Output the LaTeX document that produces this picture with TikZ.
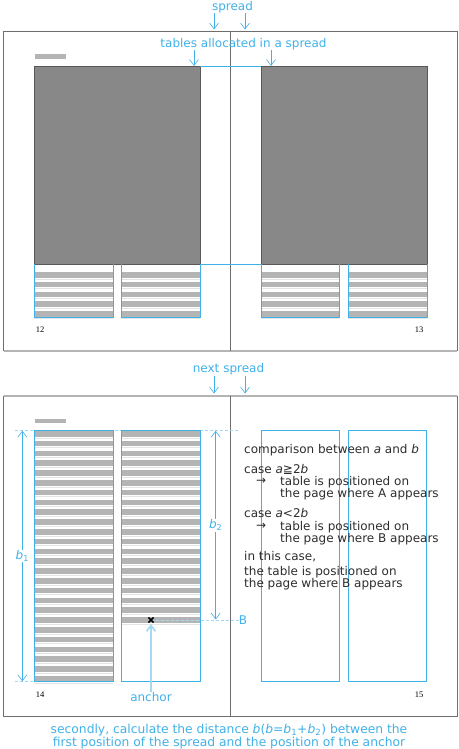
\documentclass[tikz,border=0pt]{standalone}
\usepackage{fontspec}
\setmainfont{DejaVu Sans}
\newfontfamily\pagenumfont{Liberation Serif}
\usetikzlibrary{arrows.meta}

\definecolor{refblue}{RGB}{64,176,232}
\definecolor{paleblue}{RGB}{165,216,242}
\definecolor{stripegray}{RGB}{180,180,180}
\definecolor{rowgray}{RGB}{228,228,228}
\definecolor{blockgray}{RGB}{136,136,136}
\definecolor{framegray}{RGB}{110,110,110}
\definecolor{textgray}{RGB}{45,45,45}

% variavel inclinada (a, b)
\newcommand\vr[1]{{\itshape #1}}

% linhas cinzas de uma coluna de tabela: x0, x1, y0, ultima linha
\newcommand\tablerows[4]{%
  \foreach \i in {0,...,#4} {%
    \fill[stripegray] (#1,{#3+9.8*\i}) rectangle (#2,{#3+9.8*\i+5.5});
    \draw[rowgray, line width=0.7pt] (#1,{#3+9.8*\i+6.9}) -- (#2,{#3+9.8*\i+6.9});
  }%
}

\begin{document}
\begin{tikzpicture}[
    x=1pt, y=-1pt,
    % estilos
    label/.style={text=refblue, font=\fontsize{12}{14}\selectfont, inner sep=0pt},
    body/.style={text=textgray, font=\fontsize{12}{14}\selectfont, inner sep=0pt, anchor=west},
    pagenum/.style={font=\pagenumfont\fontsize{8.5}{9}\selectfont, inner sep=0pt},
    pointer/.style={refblue, line width=0.6pt, -{Straight Barb[length=6pt,width=9pt]}},
    dimline/.style={refblue, line width=0.6pt, {Straight Barb[length=6pt,width=9pt]}-{Straight Barb[length=6pt,width=9pt]}},
    guide/.style={paleblue, line width=0.9pt, dash pattern=on 3pt off 2pt},
    column/.style={draw=refblue, line width=0.6pt},
    frame/.style={framegray, line width=0.7pt},
    frameedge/.style={stripegray, line width=1.6pt}
]
\useasboundingbox (0,0) rectangle (458,749);

% ==========================================
% 1. PRIMEIRA LAUDA (paginas 12 e 13)
% ==========================================
\draw[frame] (3.5,351) -- (3.5,31.5) -- (457,31.5) -- (457,351);
\draw[frameedge] (3.5,351) -- (457,351);
\draw[frame] (230.5,31.5) -- (230.5,351);

\fill[stripegray] (35,54) rectangle (66,58.7);

% blocos cinza
\draw[fill=blockgray, draw=framegray!80!black, line width=0.6pt] (34,66.3) rectangle (200,264.3);
\draw[fill=blockgray, draw=framegray!80!black, line width=0.6pt] (261,66.3) rectangle (427,264.3);
\draw[refblue, line width=0.6pt] (200,66.3) -- (261,66.3);
\draw[refblue, line width=0.6pt] (200,264.3) -- (261,264.3);

% tabelas abaixo dos blocos
\tablerows{34}{113.3}{272}{4}
\tablerows{121.3}{200}{272}{4}
\tablerows{261}{339.3}{272}{4}
\tablerows{348.3}{427}{272}{4}
\foreach \xa/\xb in {34/113.3, 121.3/200, 261/339.3, 348.3/427}
  \draw[column] (\xa,264.3) -- (\xa,317.3) -- (\xb,317.3) -- (\xb,264.3);

\node[pagenum] (p12) at (40,330) {12};
\node[pagenum] (p13) at (419,330) {13};

% rotulos
\node[label] (spread) at (232.5,7) {spread};
\coordinate (sa) at (214,13.5);  \coordinate (sa') at (214,29.5);
\coordinate (sb) at (245,13.5);  \coordinate (sb') at (245,29.5);
\draw[pointer] (sa) -- (sa');
\draw[pointer] (sb) -- (sb');

\node[label] (alloc) at (243.5,44) {tables allocated in a spread};
\coordinate (ta) at (194,50.5);  \coordinate (ta') at (194,66);
\coordinate (tb) at (271,50.5);  \coordinate (tb') at (271,66);
\draw[pointer] (ta) -- (ta');
\draw[pointer] (tb) -- (tb');

% ==========================================
% 2. PROXIMA LAUDA (paginas 14 e 15)
% ==========================================
\draw[frame] (3.5,395.7) -- (3.5,716) -- (457,716) -- (457,395.7);
\draw[frameedge] (3.5,395.7) -- (457,395.7);
\draw[frame] (230.5,395.7) -- (230.5,716);

\node[label] (next) at (228.5,369) {next spread};
\coordinate (na) at (214,376);  \coordinate (na') at (214,393.5);
\coordinate (nb) at (245,376);  \coordinate (nb') at (245,393.5);
\draw[pointer] (na) -- (na');
\draw[pointer] (nb) -- (nb');

\fill[stripegray] (35,418.7) rectangle (66,423.3);

% guias tracejadas
\draw[guide] (15,430.7) -- (238,430.7);
\draw[guide] (15,681.3) -- (34,681.3);

% colunas da pagina 14
\tablerows{34}{113.3}{431}{25}
\tablerows{121.3}{200}{431}{19}
\draw[column] (34,430.7) rectangle (113.3,681.3);
\draw[column] (121.3,430.7) rectangle (200,681.3);

% colunas vazias da pagina 15
\draw[column] (261.7,430.7) rectangle (339.3,681.3);
\draw[column] (348.3,430.7) rectangle (426.7,681.3);

\node[pagenum] (p14) at (40,695) {14};
\node[pagenum] (p15) at (419,695) {15};

% cotas b1 e b2
\coordinate (b1top) at (22.3,430.7);
\coordinate (b1bot) at (22.3,681.3);
\draw[dimline] (b1top) -- (b1bot)
  node[midway, fill=white, text=refblue, font=\fontsize{12}{14}\selectfont, inner sep=1pt] {\vr{b}\textsubscript{1}};
\coordinate (b2top) at (215.7,430.7);
\coordinate (b2bot) at (215.7,619.5);
\draw[dimline] (b2top) -- (b2bot)
  node[midway, fill=white, text=refblue, font=\fontsize{12}{14}\selectfont, inner sep=1pt] {\vr{b}\textsubscript{2}};

% ancora
\coordinate (mark) at (151,620);
\node[label] (B) at (243,620) {B};
\draw[guide] (mark) -- (B.west);
\draw[black, line width=1.6pt] ([xshift=-2.6pt,yshift=-2.6pt]mark) -- ([xshift=2.6pt,yshift=2.6pt]mark)
  ([xshift=-2.6pt,yshift=2.6pt]mark) -- ([xshift=2.6pt,yshift=-2.6pt]mark);
\node[label] (anchor) at (151,697) {anchor};
\coordinate (mark') at (151,624);
\draw[paleblue, line width=1.6pt, -{Straight Barb[length=6pt,width=9pt]}] (anchor.north) -- (mark');

% texto explicativo
\node[body] (t1) at (244,450) {comparison between \vr{a} and \vr{b}};
\node[body] (t2) at (244,469) {case \vr{a}≧2\vr{b}};
\node[body] (r1) at (256,481.7) {→};
\node[body] (t3) at (280,481.7) {table is positioned on};
\node[body] (t4) at (280,494.3) {the page where A appears};
\node[body] (t5) at (244,513.3) {case \vr{a}<2\vr{b}};
\node[body] (r2) at (256,526.7) {→};
\node[body] (t6) at (280,526.7) {table is positioned on};
\node[body] (t7) at (280,539.3) {the page where B appears};
\node[body] (t8) at (244,556.7) {in this case,};
\node[body] (t9) at (244,571.7) {the table is positioned on};
\node[body] (t10) at (244,584) {the page where B appears};

% legenda
\node[label, align=center, font=\fontsize{12.3}{13.3}\selectfont] (caption) at (229,736.7)
  {secondly, calculate the distance \vr{b}(\vr{b}=\vr{b}\textsubscript{1}+\vr{b}\textsubscript{2}) between the\\
   first position of the spread and the position of the anchor};

\end{tikzpicture}
\end{document}
